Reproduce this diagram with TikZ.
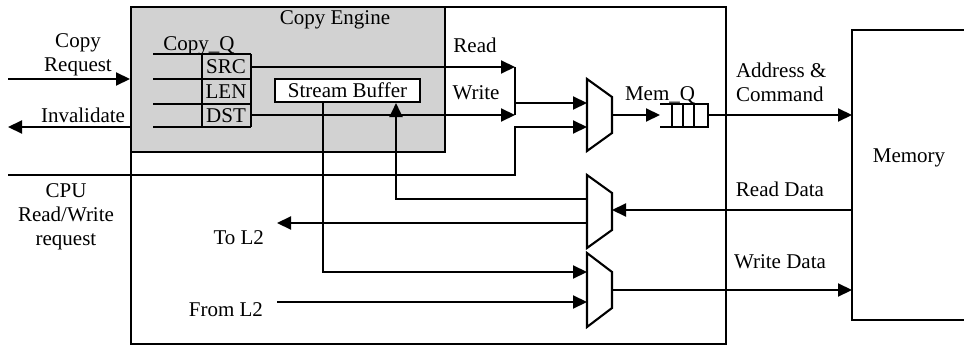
\documentclass[tikz,border=0pt]{standalone}
\usepackage{fontspec}
\setmainfont{Liberation Serif}
\usetikzlibrary{arrows.meta}
\begin{document}
\begin{tikzpicture}[x=1pt,y=-1pt,line width=2.1pt,
  arr/.style={-{Triangle[length=14pt,width=13pt]}},
  txt/.style={font=\fontsize{21}{24}\selectfont, inner sep=0pt, align=center},
  box/.style={draw, anchor=north west, inner sep=0pt},
  muxshape/.style={draw, fill=white, line join=miter}]
\useasboundingbox (0,0) rectangle (964,345);
% boxes
\node[box, fill=gray!35, minimum width=314pt, minimum height=145pt] (ce) at (130,6) {};
\node[box, minimum width=595pt, minimum height=337pt] (outer) at (130,6) {};
\node[txt] (cetxt) at (335,20) {Copy Engine};
% Copy_Q
\node[txt] (cqtxt) at (199,46) {Copy\_Q};
\foreach \y in {54,79,104,127} \draw (153,\y) -- (251,\y);
\draw (202,54) -- (202,127);
\draw (251,54) -- (251,127);
\node[txt] (src) at (226,67) {SRC};
\node[txt] (len) at (226,92) {LEN};
\node[txt] (dst) at (226,116) {DST};
% Stream buffer
\node[draw, fill=white, minimum width=145pt, minimum height=23pt, inner sep=0pt, txt] (sb) at (347.5,90.5) {Stream Buffer};
% coordinates
\coordinate (srcR) at (251,67);
\coordinate (dstR) at (251,115);
\coordinate (busT) at (515,67);
\coordinate (busB) at (515,115);
\coordinate (busM) at (515,103);
\coordinate (m1a) at (587,103);
\coordinate (m1b) at (587,127);
\coordinate (cpuL) at (8,175);
\coordinate (cpuC) at (515,175);
\coordinate (m1o) at (612,115);
\coordinate (mqL) at (660,115);
\coordinate (mqR) at (708,115);
\coordinate (memA) at (852,115);
\coordinate (memR) at (852,210);
\coordinate (m2o) at (612,210);
\coordinate (m2a) at (587,199);
\coordinate (m2b) at (587,223);
\coordinate (toL2) at (277,223);
\coordinate (m3a) at (587,272);
\coordinate (fromL2) at (277,302);
\coordinate (m3b) at (587,302);
\coordinate (m3o) at (612,290);
\coordinate (memW) at (852,290);
\coordinate (crL) at (8,79);
\coordinate (crR) at (130,79);
\coordinate (invR) at (130,127);
\coordinate (invL) at (8,127);
% muxes
\draw[muxshape] (587,79) -- (612,97) -- (612,133) -- (587,151) -- cycle;
\draw[muxshape] (587,175) -- (612,193) -- (612,230) -- (587,248) -- cycle;
\draw[muxshape] (587,253) -- (612,272) -- (612,308) -- (587,327) -- cycle;
% Mem_Q
\draw (660,104) -- (708,104) -- (708,127) -- (660,127);
\foreach \x in {672,683,694} \draw (\x,104) -- (\x,127);
\node[txt] (mqtxt) at (660,95) {Mem\_Q};
% memory
\draw (964,30) -- (852,30) -- (852,320) -- (964,320);
\node[txt] (mem) at (909,158) {Memory};
% connectors
\draw[arr] (srcR) -- (busT);
\draw[arr] (dstR) -- (busB);
\draw (busT) -- (busB);
\draw[arr] (busM) -- (m1a);
\draw[arr] (cpuL) -- (cpuC) -- (m1b -| cpuC) -- (m1b);
\draw[arr] (m1o) -- (mqL);
\draw[arr] (mqR) -- (memA);
\draw[arr] (memR) -- (m2o);
\draw[arr] (m2a) -- (m2a -| 396,0) -- (sb.south -| 396,0);
\draw[arr] (m2b) -- (toL2);
\draw[arr] (sb.south -| 323,0) -- (m3a -| 323,0) -- (m3a);
\draw[arr] (fromL2) -- (m3b);
\draw[arr] (m3o) -- (memW);
\draw[arr] (crL) -- (crR);
\draw[arr] (invR) -- (invL);
% labels
\node[txt] (cr) at (78,55) {Copy\\Request};
\node[txt] (inv) at (83,115) {Invalidate};
\node[txt] (cpu) at (66,217) {CPU\\Read/Write\\request};
\node[txt, anchor=east] (tl2) at (265,238) {To L2};
\node[txt, anchor=east] (fl2) at (264,310) {From L2};
\node[txt] (rd) at (475,45) {Read};
\node[txt] (wr) at (476,93) {Write};
\node[txt, anchor=west, align=left] (addr) at (735,82) {Address \&\\Command};
\node[txt] (rdd) at (780,189) {Read Data};
\node[txt] (wrd) at (780,262) {Write Data};
\end{tikzpicture}
\end{document}
